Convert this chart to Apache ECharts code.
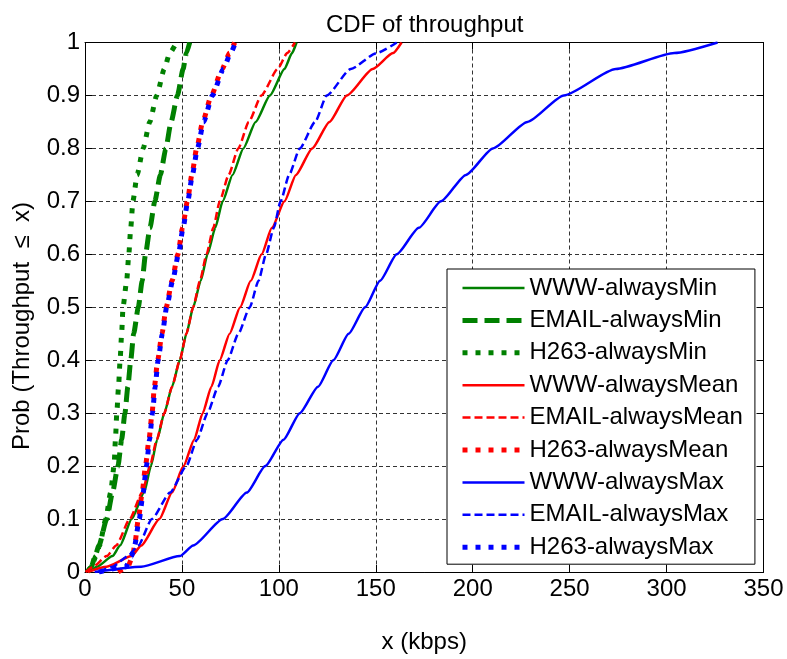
<!DOCTYPE html>
<html>
<head>
<meta charset="utf-8">
<script src="https://cdn.jsdelivr.net/npm/echarts@6/dist/echarts.min.js"></script>
<style>
  html, body { margin: 0; padding: 0; background: #fff; }
  #chart { width: 787px; height: 659px; }
</style>
</head>
<body>
<div id="chart"></div>
<script>
// cumulative probability levels shared by every curve
const probLevels = [0, 0.01, 0.03, 0.05, 0.1, 0.15, 0.2, 0.25, 0.3, 0.35, 0.4, 0.45,
  0.5, 0.55, 0.6, 0.65, 0.7, 0.75, 0.8, 0.85, 0.9, 0.95, 0.98, 1];

// throughput (kbps) reached at each probability level
const wwwMin = [2.3, 6.2, 14.2, 18.1, 24.1, 30.5, 34, 37.2, 40.9, 44.9, 48.9, 52.3,
  55.8, 59.7, 63.2, 67.2, 71, 76.1, 81.7, 88, 95.4, 102.9, 106.8, 109.1];
const emailMin = [1.3, 3.3, 5.2, 7.2, 11.2, 14.2, 17, 18.9, 20.6, 22.1, 23.6, 25.1,
  27.5, 29.5, 31.2, 33.5, 36, 38.9, 41.7, 44.4, 47.7, 50.6, 52.3, 54];
const h263Min = [1.3, 3.3, 5.7, 7.5, 10.7, 13.2, 15, 15.7, 16.4, 17.3, 18.1, 18.9,
  19.6, 21.5, 22.6, 23.6, 24.7, 26.9, 30, 33.4, 37, 40.9, 43.7, 47.2];
const wwwMean = [1.3, 11.2, 24.1, 29, 38.4, 44.9, 50.8, 56.3, 60.7, 65.2, 69.5, 74.6,
  80, 85.5, 91.1, 96.4, 102.9, 108.8, 117.2, 126.1, 135.1, 148.4, 158.9, 163.3];
const emailMean = [0.3, 4.3, 11.2, 16.1, 23.1, 29.5, 33.5, 37, 40.9, 44.9, 48.9, 52.3,
  55.8, 59.3, 62.7, 66.2, 69.5, 74.1, 79.1, 84.5, 91, 99.4, 104.3, 108.3];
const h263Mean = [17.1, 22.1, 24.6, 25.6, 27.5, 29.5, 31.2, 33, 34.6, 35.8, 37.5, 39.7,
  41.9, 44.9, 47.9, 50.3, 52.8, 55.1, 57.6, 60.7, 65.2, 70.7, 74.6, 77.2];
const wwwMax = [5, 29, 48.9, 55.8, 71.1, 83.5, 93, 102.4, 110.8, 120.2, 128.1, 136,
  144.5, 152.2, 160.8, 172.2, 183.6, 196.5, 210.4, 228.2, 247, 273.8, 304, 326.3];
const emailMax = [7.2, 14.2, 22.1, 27.5, 34.5, 43.9, 52.3, 57.8, 63.2, 68.7, 73.6, 79.1,
  85, 89.5, 93.4, 97.4, 100.9, 105.3, 110.8, 118.7, 124.7, 137.1, 150.4, 160.8];
const h263Max = [7.2, 21.1, 24.1, 25.6, 28, 30, 31.7, 33.3, 34.8, 36.2, 37.7, 39.9,
  42.1, 45.2, 48.2, 50.6, 53, 55.4, 58, 61.2, 65.7, 71.4, 75.1, 77.6];

const FONT = '"Liberation Sans", Arial, sans-serif';
const GREEN = "#008000";
const RED = "#ff0000";
const BLUE = "#0000ff";

// line look: thin solid, thick dashed / thin dashed, thick dotted
const SOLID = { type: "solid", width: 2.5 };
const THIN_DASH = { type: [8, 4], width: 2.5 };
const THICK_DASH = { type: [15, 7], width: 5 };
const DOTTED = { type: [5, 8], width: 5 };

const curves = [
  { name: "WWW-alwaysMin", xs: wwwMin, color: GREEN, style: SOLID },
  { name: "EMAIL-alwaysMin", xs: emailMin, color: GREEN, style: THICK_DASH },
  { name: "H263-alwaysMin", xs: h263Min, color: GREEN, style: DOTTED },
  { name: "WWW-alwaysMean", xs: wwwMean, color: RED, style: SOLID },
  { name: "EMAIL-alwaysMean", xs: emailMean, color: RED, style: THIN_DASH },
  { name: "H263-alwaysMean", xs: h263Mean, color: RED, style: DOTTED },
  { name: "WWW-alwaysMax", xs: wwwMax, color: BLUE, style: SOLID },
  { name: "EMAIL-alwaysMax", xs: emailMax, color: BLUE, style: THIN_DASH },
  { name: "H263-alwaysMax", xs: h263Max, color: BLUE, style: DOTTED },
];

const chart = echarts.init(document.getElementById("chart"));

// top / right edges of the MATLAB style box
const boxAxis = {
  axisLine: { show: true, onZero: false, lineStyle: { color: "#000", width: 1 } },
  axisTick: { show: true, inside: true, length: 7, lineStyle: { color: "#000" } },
  axisLabel: { show: false },
  splitLine: { show: false },
};

const gridLine = { show: true, lineStyle: { color: "#333", type: [4, 3], width: 1 } };

chart.setOption({
  animation: false,
  backgroundColor: "#fff",
  title: {
    text: "CDF of throughput",
    left: 321,
    top: 8,
    textStyle: { fontFamily: FONT, fontSize: 24, fontWeight: "normal", color: "#000" },
  },
  graphic: [
    {
      type: "text",
      x: 22,
      y: 326,
      rotation: Math.PI / 2,
      style: {
        text: "Prob (Throughput  \u2264  x)",
        font: "24px " + FONT,
        fill: "#000",
        align: "center",
        verticalAlign: "middle",
      },
    },
  ],
  grid: { left: 85, right: 23.5, top: 42.5, bottom: 86.5, show: false },
  legend: {
    orient: "vertical",
    left: 447,
    top: 269,
    padding: [7, 12, 5, 13],
    itemWidth: 62,
    itemHeight: 14,
    itemGap: 8.4,
    backgroundColor: "#fff",
    borderColor: "#000",
    borderWidth: 1,
    borderRadius: 0,
    textStyle: { fontFamily: FONT, fontSize: 24, color: "#000" },
    data: curves.map((c) => ({
      name: c.name,
      itemStyle: { opacity: 0 },
      lineStyle: { color: c.color, type: c.style.type, width: c.style.width, cap: "butt" },
    })),
  },
  xAxis: [
    {
      type: "value",
      min: 0,
      max: 350,
      interval: 50,
      name: "x (kbps)",
      nameLocation: "middle",
      nameGap: 58,
      nameTextStyle: { fontFamily: FONT, fontSize: 24, color: "#000" },
      axisLine: { show: true, onZero: false, lineStyle: { color: "#000", width: 1 } },
      axisTick: { show: true, inside: true, length: 7, lineStyle: { color: "#000" } },
      axisLabel: { margin: 5, fontFamily: FONT, fontSize: 24, color: "#000" },
      splitLine: gridLine,
    },
    Object.assign({ type: "value", min: 0, max: 350, interval: 50, position: "top" }, boxAxis),
  ],
  yAxis: [
    {
      type: "value",
      min: 0,
      max: 1,
      interval: 0.1,
      axisLine: { show: true, onZero: false, lineStyle: { color: "#000", width: 1 } },
      axisTick: { show: true, inside: true, length: 7, lineStyle: { color: "#000" } },
      axisLabel: {
        margin: 5,
        fontFamily: FONT,
        fontSize: 24,
        color: "#000",
        formatter: (v) => String(Math.round(v * 10) / 10),
      },
      splitLine: gridLine,
    },
    Object.assign({ type: "value", min: 0, max: 1, interval: 0.1, position: "right" }, boxAxis),
  ],
  series: curves.map((c) => ({
    name: c.name,
    type: "line",
    xAxisIndex: 0,
    yAxisIndex: 0,
    symbol: "none",
    smooth: 0.2,
    smoothMonotone: "x",
    color: c.color,
    lineStyle: { color: c.color, type: c.style.type, width: c.style.width, cap: "butt" },
    data: c.xs.map((x, i) => [x, probLevels[i]]),
  })),
});
</script>
</body>
</html>
